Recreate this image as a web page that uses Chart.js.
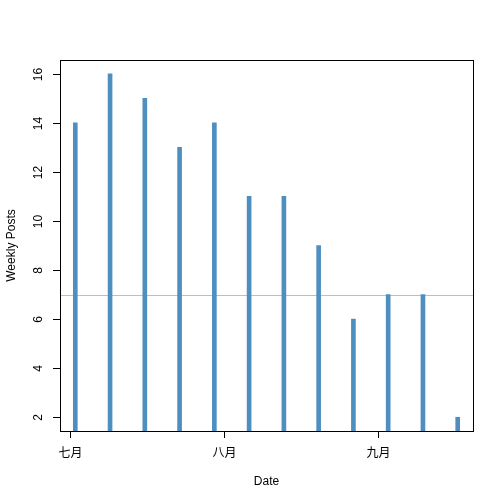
<!DOCTYPE html>
<html>
<head>
<meta charset="utf-8">
<script src="https://cdn.jsdelivr.net/npm/chart.js@4"></script>
<style>
  body { margin: 0; background: #fff; }
  #wrap { width: 504px; height: 504px; }
</style>
</head>
<body>
<div id="wrap"><canvas id="c" width="504" height="504"></canvas></div>
<script>
// weekly post counts
const weekDates = [
  "2014-07-02", "2014-07-09", "2014-07-16", "2014-07-23", "2014-07-30", "2014-08-06",
  "2014-08-13", "2014-08-20", "2014-08-27", "2014-09-03", "2014-09-10", "2014-09-17",
];
const weeklyPosts = [14, 16, 15, 13, 14, 11, 11, 9, 6, 7, 7, 2];
const monthTicks = ["2014-07-01", "2014-08-01", "2014-09-01"];
const monthLabels = ["七月", "八月", "九月"];
const yTicks = [2, 4, 6, 8, 10, 12, 14, 16];
const refLine = 7;

const DAY = 86400000;
const origin = Date.parse(monthTicks[0]);
const toDay = (s) => (Date.parse(s) - origin) / DAY;

// R style 4% padding on both axes
const xs = weekDates.map(toDay);
const xPad = (Math.max(...xs) - Math.min(...xs)) * 0.04;
const yPad = (Math.max(...weeklyPosts) - Math.min(...weeklyPosts)) * 0.04;

const FONT = '12px "Liberation Sans", Arial, "Noto Sans CJK SC", sans-serif';

const rAxes = {
  id: "rAxes",
  beforeDatasetsDraw(chart) {
    const { ctx, chartArea: a, scales } = chart;
    const y = Math.round(scales.y.getPixelForValue(refLine)) + 0.5;
    ctx.save();
    ctx.strokeStyle = "#bebebe";
    ctx.lineWidth = 1;
    ctx.beginPath();
    ctx.moveTo(a.left, y);
    ctx.lineTo(a.right, y);
    ctx.stroke();
    ctx.restore();
  },
  afterDraw(chart) {
    const { ctx, chartArea: a, scales } = chart;
    ctx.save();
    ctx.strokeStyle = "#000";
    ctx.fillStyle = "#000";
    ctx.lineWidth = 1;
    ctx.font = FONT;

    // box
    ctx.strokeRect(Math.round(a.left) + 0.5, Math.round(a.top) + 0.5,
      Math.round(a.right - a.left), Math.round(a.bottom - a.top));

    // x axis
    ctx.textAlign = "center";
    ctx.textBaseline = "middle";
    monthTicks.forEach((m, i) => {
      const x = Math.round(scales.x.getPixelForValue(toDay(m))) + 0.5;
      ctx.beginPath();
      ctx.moveTo(x, a.bottom);
      ctx.lineTo(x, a.bottom + 7);
      ctx.stroke();
      ctx.fillText(monthLabels[i], x, a.bottom + 23);
    });
    ctx.fillText("Date", (a.left + a.right) / 2, a.bottom + 51);

    // y axis, labels turned like R
    yTicks.forEach((t) => {
      const y = Math.round(scales.y.getPixelForValue(t)) + 0.5;
      ctx.beginPath();
      ctx.moveTo(a.left - 7, y);
      ctx.lineTo(a.left, y);
      ctx.stroke();
      ctx.save();
      ctx.translate(a.left - 21, y);
      ctx.rotate(-Math.PI / 2);
      ctx.fillText(String(t), 0, 0);
      ctx.restore();
    });
    ctx.save();
    ctx.translate(12, (a.top + a.bottom) / 2);
    ctx.rotate(-Math.PI / 2);
    ctx.fillText("Weekly Posts", 0, 0);
    ctx.restore();

    ctx.restore();
  },
};

new Chart(document.getElementById("c"), {
  type: "bar",
  data: {
    datasets: [
      {
        data: xs.map((x, i) => ({ x: x, y: weeklyPosts[i] })),
        backgroundColor: "#4f8fc0",
        barThickness: 4,
        clip: 0,
      },
    ],
  },
  options: {
    responsive: false,
    animation: false,
    layout: { padding: { left: 60, top: 60, right: 31, bottom: 73 } },
    plugins: { legend: { display: false }, tooltip: { enabled: false } },
    scales: {
      x: {
        type: "linear",
        offset: false,
        display: false,
        min: Math.min(...xs) - xPad,
        max: Math.max(...xs) + xPad,
      },
      y: {
        display: false,
        min: Math.min(...weeklyPosts) - yPad,
        max: Math.max(...weeklyPosts) + yPad,
      },
    },
  },
  plugins: [rAxes],
});
</script>
</body>
</html>
